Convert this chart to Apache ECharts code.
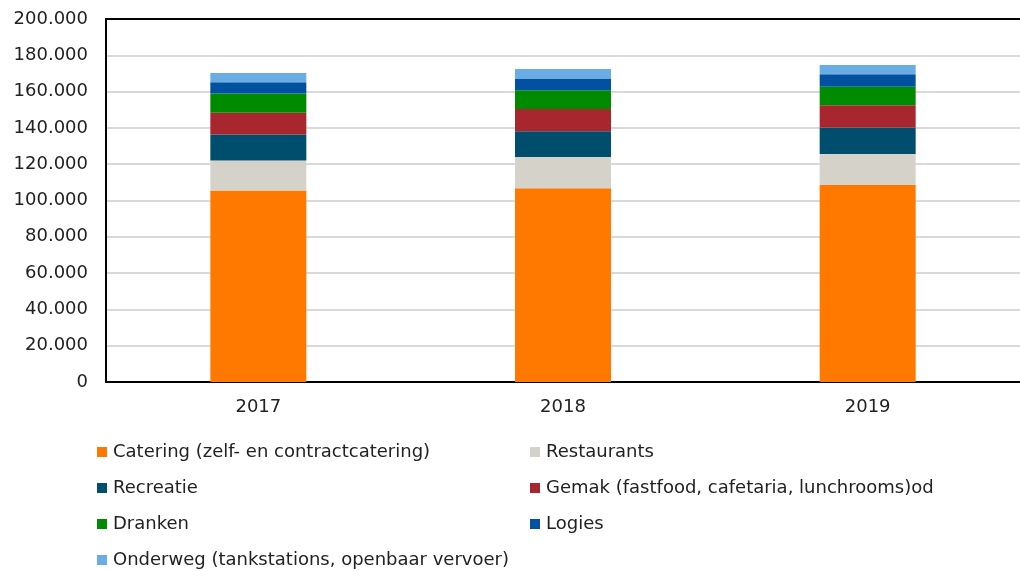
<!DOCTYPE html>
<html>
<head>
<meta charset="utf-8">
<script src="https://cdn.jsdelivr.net/npm/echarts@6/dist/echarts.min.js"></script>
<style>
  html, body { margin: 0; padding: 0; background: #fff; }
  #chart { width: 1020px; height: 571px; }
</style>
</head>
<body>
<div id="chart"></div>
<script>
// jaren
const years = ['2017', '2018', '2019'];
// waarden per segment (aantal)
const catering = [105500, 106800, 108500];
const restaurants = [16600, 17100, 17100];
const recreatie = [14200, 14200, 14600];
const gemak = [12100, 12300, 12300];
const dranken = [10500, 10400, 10200];
const logies = [6300, 6400, 6900];
const onderweg = [5100, 5200, 5000];

const names = [
  'Catering (zelf- en contractcatering)',
  'Restaurants',
  'Recreatie',
  'Gemak (fastfood, cafetaria, lunchrooms)od',
  'Dranken',
  'Logies',
  'Onderweg (tankstations, openbaar vervoer)'
];
const colors = ['#ff7900', '#d5d2ca', '#004e6e', '#a8272f', '#008a00', '#0052a0', '#6aade4'];
const values = [catering, restaurants, recreatie, gemak, dranken, logies, onderweg];

const font = '"DejaVu Sans", Verdana, sans-serif';

const chart = echarts.init(document.getElementById('chart'));

// legenda: twee kolommen, elk item apart geplaatst
const legends = names.map((n, i) => ({
  icon: 'rect',
  itemWidth: 10,
  itemHeight: 10,
  itemGap: 0,
  padding: 0,
  left: i % 2 === 0 ? 97 : 530,
  top: 443 + Math.floor(i / 2) * 36,
  data: [n],
  textStyle: { fontFamily: font, fontSize: 18, color: '#222', padding: [0, 0, 0, 1] }
}));

chart.setOption({
  animation: false,
  color: colors,
  legend: legends,
  grid: { left: 106, right: 0, top: 19, bottom: 189 },
  xAxis: [
    {
      type: 'category',
      data: years,
      axisLine: { lineStyle: { color: '#000', width: 2 } },
      axisTick: { show: false },
      axisLabel: { fontFamily: font, fontSize: 18, color: '#222', margin: 16 }
    },
    {
      type: 'category',
      position: 'top',
      data: years,
      axisLine: { lineStyle: { color: '#000', width: 2 } },
      axisTick: { show: false },
      axisLabel: { show: false }
    }
  ],
  yAxis: {
    type: 'value',
    min: 0,
    max: 200000,
    interval: 20000,
    axisLine: { show: true, lineStyle: { color: '#000', width: 2 } },
    axisTick: { show: false },
    splitLine: { lineStyle: { color: '#d9d9d9', width: 2 } },
    axisLabel: {
      fontFamily: font, fontSize: 18, color: '#222', margin: 18,
      formatter: v => v.toString().replace(/\B(?=(\d{3})+(?!\d))/g, '.')
    }
  },
  series: names.map((n, i) => ({
    name: n,
    type: 'bar',
    stack: 'totaal',
    barWidth: 96,
    data: values[i]
  }))
});
</script>
</body>
</html>
